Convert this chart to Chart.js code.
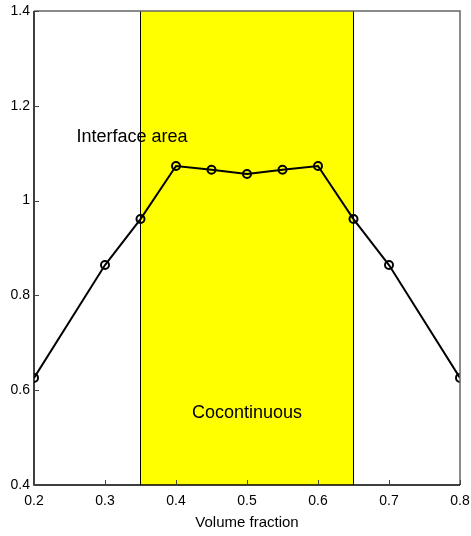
<!DOCTYPE html>
<html>
<head>
<meta charset="utf-8">
<script src="https://cdn.jsdelivr.net/npm/chart.js@4/dist/chart.umd.min.js"></script>
<style>
  html, body { margin: 0; padding: 0; background: #fff; }
  #wrap { width: 471px; height: 536px; }
</style>
</head>
<body>
<div id="wrap"><canvas id="c" width="471" height="536"></canvas></div>
<script>
// Interface area versus volume fraction
const volumeFraction = [0.2, 0.3, 0.35, 0.4, 0.45, 0.5, 0.55, 0.6, 0.65, 0.7, 0.8];
const interfaceArea  = [0.626, 0.864, 0.961, 1.073, 1.065, 1.056, 1.065, 1.073, 0.961, 0.864, 0.626];
const xTicks = [0.2, 0.3, 0.4, 0.5, 0.6, 0.7, 0.8];
const yTicks = [0.4, 0.6, 0.8, 1, 1.2, 1.4];
const cocontinuousRange = [0.35, 0.65];
const notes = [
  { text: 'Interface area', x: 0.338, y: 1.134 },
  { text: 'Cocontinuous', x: 0.5, y: 0.552 }
];

const FONT = '"Liberation Sans Narrow", "Liberation Sans", Arial, sans-serif';

const bandPlugin = {
  id: 'band',
  beforeDatasetsDraw(chart) {
    const { ctx, chartArea: a, scales: { x } } = chart;
    const x0 = Math.round(x.getPixelForValue(cocontinuousRange[0])) + 0.5;
    const x1 = Math.round(x.getPixelForValue(cocontinuousRange[1])) + 0.5;
    ctx.save();
    ctx.fillStyle = '#ffff00';
    ctx.fillRect(x0, a.top, x1 - x0, a.bottom - a.top);
    ctx.strokeStyle = '#000';
    ctx.lineWidth = 1;
    ctx.beginPath();
    ctx.moveTo(x0, a.top); ctx.lineTo(x0, a.bottom);
    ctx.moveTo(x1, a.top); ctx.lineTo(x1, a.bottom);
    ctx.stroke();
    ctx.restore();
  },
  afterDatasetsDraw(chart) {
    const { ctx, chartArea: a, scales: { x, y } } = chart;
    ctx.save();
    // frame: dark left/bottom axes, grey top/right
    ctx.lineWidth = 1.5;
    ctx.strokeStyle = '#666';
    ctx.beginPath();
    ctx.moveTo(a.left, a.top); ctx.lineTo(a.right, a.top); ctx.lineTo(a.right, a.bottom);
    ctx.stroke();
    ctx.strokeStyle = '#000';
    ctx.beginPath();
    ctx.moveTo(a.left, a.top); ctx.lineTo(a.left, a.bottom); ctx.lineTo(a.right, a.bottom);
    ctx.stroke();
    // inward tick marks
    ctx.lineWidth = 1;
    ctx.strokeStyle = '#444';
    ctx.beginPath();
    xTicks.forEach(v => {
      const px = Math.round(x.getPixelForValue(v)) + 0.5;
      ctx.moveTo(px, a.bottom); ctx.lineTo(px, a.bottom - 5);
    });
    yTicks.forEach(v => {
      const py = Math.round(y.getPixelForValue(v)) + 0.5;
      ctx.moveTo(a.left, py); ctx.lineTo(a.left + 5, py);
    });
    ctx.stroke();
    // annotations
    ctx.fillStyle = '#000';
    ctx.font = '18px ' + FONT;
    ctx.textAlign = 'center';
    ctx.textBaseline = 'middle';
    notes.forEach(n => ctx.fillText(n.text, x.getPixelForValue(n.x), y.getPixelForValue(n.y)));
    ctx.restore();
  }
};

new Chart(document.getElementById('c'), {
  type: 'line',
  data: {
    datasets: [{
      data: volumeFraction.map((v, i) => ({ x: v, y: interfaceArea[i] })),
      borderColor: '#000',
      borderWidth: 2,
      pointStyle: 'circle',
      pointRadius: 4,
      pointBorderWidth: 2,
      pointBorderColor: '#000',
      pointBackgroundColor: 'rgba(0,0,0,0)',
      tension: 0,
      fill: false
    }]
  },
  options: {
    responsive: false,
    animation: false,
    devicePixelRatio: 1,
    layout: { padding: { top: 11, right: 11, left: 0, bottom: 0 } },
    plugins: { legend: { display: false }, tooltip: { enabled: false } },
    scales: {
      x: {
        type: 'linear',
        min: 0.2, max: 0.8,
        afterBuildTicks(s) { s.ticks = xTicks.map(v => ({ value: v })); },
        afterFit(s) { s.height = 51; s.paddingLeft = 0; s.paddingRight = 0; },
        grid: { display: false, drawTicks: false },
        border: { display: false },
        ticks: {
          padding: 8,
          color: '#000',
          font: { family: FONT, size: 14 },
          callback: v => String(v)
        },
        title: {
          display: true,
          text: 'Volume fraction',
          color: '#000',
          font: { family: FONT, size: 15 },
          padding: { top: 2, bottom: 4 }
        }
      },
      y: {
        type: 'linear',
        min: 0.4, max: 1.4,
        afterBuildTicks(s) { s.ticks = yTicks.map(v => ({ value: v })); },
        afterFit(s) { s.width = 34; s.paddingTop = 0; s.paddingBottom = 0; },
        grid: { display: false, drawTicks: false },
        border: { display: false },
        ticks: {
          padding: 4,
          color: '#000',
          font: { family: FONT, size: 14 },
          callback: v => String(v)
        }
      }
    }
  },
  plugins: [bandPlugin]
});
</script>
</body>
</html>
